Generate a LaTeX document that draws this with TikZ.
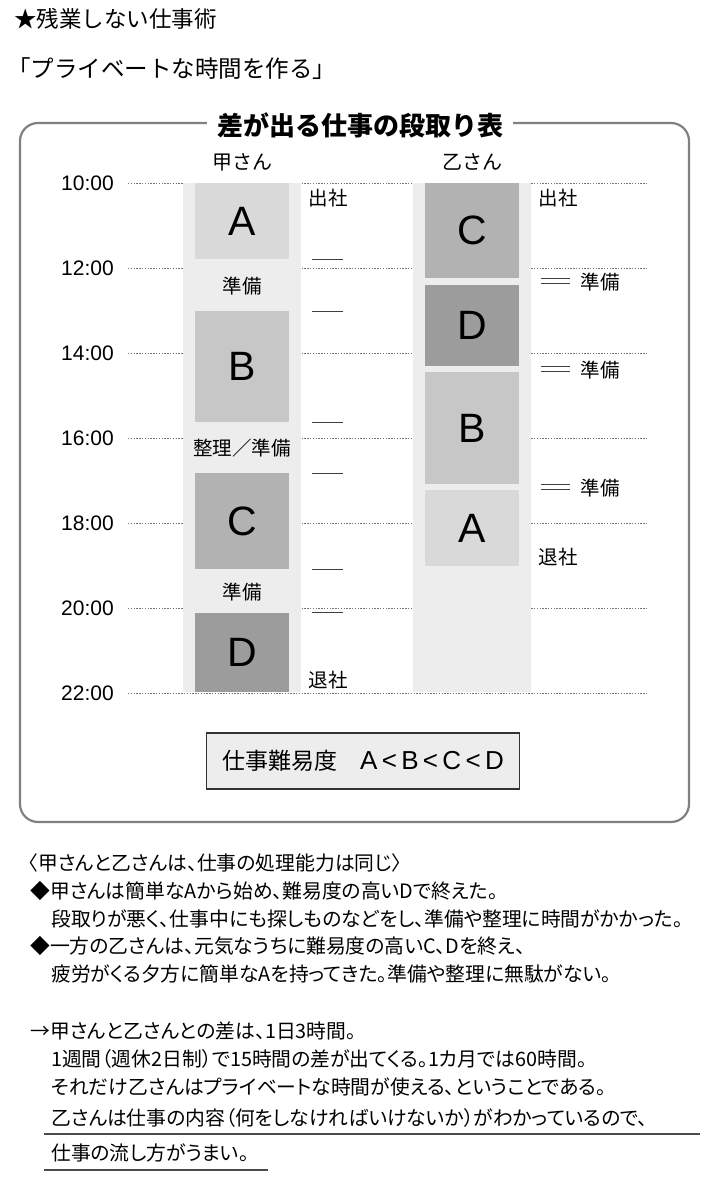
\documentclass[tikz,border=0pt]{standalone}
\usepackage{fontspec}
\setmainfont{Noto Sans CJK JP}
\newfontfamily\lat{Liberation Sans}
\newfontfamily\jpp[RawFeature=+palt]{Noto Sans CJK JP}
\usetikzlibrary{positioning}
\definecolor{colbg}{gray}{0.93}
\definecolor{gA}{gray}{0.85}
\definecolor{gB}{gray}{0.78}
\definecolor{gC}{gray}{0.70}
\definecolor{gD}{gray}{0.61}
\definecolor{frameg}{gray}{0.5}

\begin{document}
\begin{tikzpicture}[
  x=1pt, y=-1pt,
  tm/.style={anchor=east,inner sep=0pt,font=\lat\fontsize{21}{21}\selectfont},
  hd/.style={inner sep=0pt,font=\fontsize{20}{20}\selectfont},
  col/.style={fill=colbg,minimum width=118pt,minimum height=509pt,anchor=north,inner sep=0pt},
  task/.style={minimum width=94pt,anchor=north,inner sep=0pt,font=\lat\fontsize{41}{41}\selectfont},
  lbl/.style={inner sep=0pt,font=\fontsize{19.5}{19.5}\selectfont},
  gridl/.style={gray!90!black,line width=0.8pt,dash pattern=on 1.4pt off 1.4pt},
  tickl/.style={black!75,line width=0.9pt},
  txt/.style={anchor=west,inner sep=0pt,font=\jpp\fontsize{19.8}{19.8}\selectfont},
  uline/.style={black!70,line width=1.1pt}
]
\useasboundingbox (0,0) rectangle (715,1186);

% heading
\node[anchor=west,inner sep=0pt,font=\fontsize{22.5}{22.5}\selectfont] (kicker) at (14,19) {★残業しない仕事術};
\node[anchor=west,inner sep=0pt,font=\fontsize{23.5}{23.5}\selectfont] (head) at (7,69) {「プライベートな時間を作る」};

% frame
\draw[frameg,line width=2.2pt,rounded corners=18pt] (20,123) rectangle (689,822);
\node[fill=white,inner xsep=10pt,inner ysep=2pt,font=\bfseries\fontsize{26}{26}\selectfont] (title) at (360,125) {差が出る仕事の段取り表};

% time grid
\foreach \h [count=\i from 0] in {10,12,...,22} {
  \node[tm] (t\h) at (114,183+85*\i) {\h:00};
  \draw[gridl] ([xshift=14pt]t\h.east) -- ++(519,0);
}

% columns
\node[hd] (nameK) at (242,162) {甲さん};
\node[hd] (nameO) at (472,162) {乙さん};
\node[col] (colK) at (242,183) {};
\node[col] (colO) at (472,183) {};
\draw[gridl] ([xshift=14pt]t22.east) -- ++(519,0);

% Kou
\node[task,fill=gA,minimum height=76pt] (kA) at (242,183) {A};
\node[task,fill=gB,minimum height=111pt] (kB) at (242,311) {B};
\node[task,fill=gC,minimum height=96pt] (kC) at (242,473) {C};
\node[task,fill=gD,minimum height=79pt] (kD) at (242,613) {D};
\node[lbl] (kp1) at (242,286) {準備};
\node[lbl] (kp2) at (242,448) {整理／準備};
\node[lbl] (kp3) at (242,592) {準備};
\foreach \y in {259,311,422,473,569,612}
  \draw[tickl] (312,\y) -- (343,\y);
\node[lbl] (kin) at (328,198) {出社};
\node[lbl] (kout) at (328,680) {退社};

% Otsu
\node[task,fill=gC,minimum height=95pt] (oC) at (472,183) {C};
\node[task,fill=gD,minimum height=81pt] (oD) at (472,285) {D};
\node[task,fill=gB,minimum height=112pt] (oB) at (472,372) {B};
\node[task,fill=gA,minimum height=76pt] (oA) at (472,490) {A};
\node[lbl] (oin) at (558,198) {出社};
\node[lbl] (oout) at (558,557) {退社};
\foreach \y/\n in {281/1,369/2,487/3} {
  \draw[tickl] (541,\y-2.5) -- (570,\y-2.5);
  \draw[tickl] (541,\y+2.5) -- (570,\y+2.5);
  \node[lbl] (op\n) at (600,\y+1) {準備};
}

% key
\node[draw=black!80,line width=1.3pt,fill=colbg,minimum width=313pt,minimum height=56pt,
  font=\fontsize{23}{23}\selectfont] (key) at (363,761) {仕事難易度\quad{\lat\fontsize{26}{26}\selectfont A\,<\,B\,<\,C\,<\,D}};

% notes
\node[txt] (n1) at (28,863) {〈甲さんと乙さんは、仕事の処理能力は同じ〉};
\node[txt] (n2) at (30,891) {◆甲さんは簡単なAから始め、難易度の高いDで終えた。};
\node[txt] (n3) at (51,919) {段取りが悪く、仕事中にも探しものなどをし、準備や整理に時間がかかった。};
\node[txt] (n4) at (30,946) {◆一方の乙さんは、元気なうちに難易度の高いC、Dを終え、};
\node[txt] (n5) at (51,974) {疲労がくる夕方に簡単なAを持ってきた。準備や整理に無駄がない。};
\node[txt] (n6) at (30,1031) {→甲さんと乙さんとの差は、1日3時間。};
\node[txt] (n7) at (51,1059) {1週間（週休2日制）で15時間の差が出てくる。1カ月では60時間。};
\node[txt] (n8) at (51,1087) {それだけ乙さんはプライベートな時間が使える、ということである。};
\node[txt] (n9) at (51,1118) {乙さんは仕事の内容（何をしなければいけないか）がわかっているので、};
\node[txt] (n10) at (51,1153) {仕事の流し方がうまい。};
\draw[uline] (44,1134) -- (700,1134);
\draw[uline] (44,1170) -- (268,1170);
\end{tikzpicture}
\end{document}
